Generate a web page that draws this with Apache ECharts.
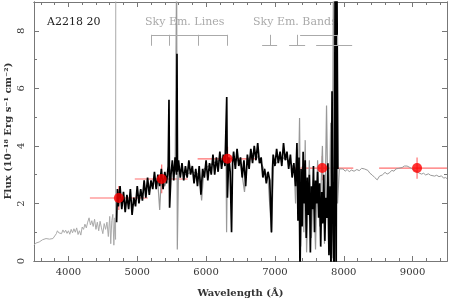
<!DOCTYPE html>
<html><head><meta charset="utf-8">
<script src="https://cdn.jsdelivr.net/npm/echarts@6/dist/echarts.min.js"></script>
<style>html,body{margin:0;padding:0;background:#fff}#c{width:451px;height:300px}</style>
</head><body><div id="c"></div>
<script>
// ---- data ----
const xMajorTicks = [4000, 5000, 6000, 7000, 8000, 9000];
const xMinorTicks = [3600,3800,4200,4400,4600,4800,5200,5400,5600,5800,6200,6400,6600,6800,7200,7400,7600,7800,8200,8400,8600,8800,9200,9400];
const yMajorTicks = [0, 2, 4, 6, 8];
const yMinorTicks = [1, 3, 5, 7];

// grey spectrum, blue end
const greyBlue = [[3500,0.55],[3525,0.62],[3550,0.58],[3575,0.66],[3600,0.70],[3625,0.74],[3650,0.72],[3675,0.78],[3700,0.80],[3725,0.76],[3750,0.81],[3775,0.78],[3800,0.74],[3825,0.95],[3840,1.05],[3860,0.98],[3880,1.02],[3900,0.95],[3920,1.08],[3940,0.99],[3960,1.07],[3980,0.96],[4000,1.05],[4020,0.93],[4040,1.10],[4060,0.98],[4080,1.12],[4100,1.00],[4120,1.15],[4140,0.92],[4160,1.05],[4180,0.90],[4200,1.18],[4220,1.10],[4240,1.28],[4260,1.15],[4280,1.35],[4300,1.50],[4320,1.25],[4340,1.40],[4360,1.20],[4380,1.45],[4400,1.10],[4420,1.35],[4440,1.05],[4460,1.38],[4480,1.15],[4500,0.95],[4520,1.30],[4540,1.10],[4560,1.35],[4580,0.85],[4600,1.55],[4615,0.60],[4630,1.40],[4645,1.62],[4660,0.55],[4675,1.50],[4685,0.75],[4688,10]];

// grey (sky-affected) spectrum under the black one
const greyMid = [[5250,2.8],[5300,2.7],[5326,1.77],[5350,2.9],[5400,2.6],[5450,3.0],[5500,3.2],[5550,3.1],[5572,10],[5582,0.4],[5600,3.2],[5700,3.0],[5800,3.1],[5900,3.0],[5935,2.1],[5970,3.2],[6100,3.4],[6200,3.5],[6290,3.4],[6298,1.0],[6310,3.5],[6400,3.6],[6500,3.4],[6558,2.4],[6600,3.5],[6700,3.8],[6800,3.4],[6900,2.9],[6950,0.97],[6980,3.3],[7100,3.6],[7200,3.5],[7280,3.2],[7300,2.0],[7320,3.9],[7340,2.5],[7358,4.97],[7375,0.5],[7400,3.3],[7420,1.0],[7440,4.2],[7460,0.3],[7500,3.5],[7530,0.8],[7560,2.8],[7590,0.4],[7620,3.5],[7650,1.2],[7690,4.0],[7720,0.6],[7750,5.4],[7780,0.3],[7810,4.8],[7830,0.1],[7850,10],[7870,0.0],[7890,10],[7910,2.0],[7935,3.2]];

// black spectrum
const blackSpec = [[4700,1.35],[4712,2.5],[4725,1.9],[4750,2.6],[4775,1.8],[4800,2.4],[4825,1.7],[4850,2.3],[4875,1.8],[4900,2.5],[4925,1.6],[4950,2.2],[4975,1.9],[5000,2.6],[5025,2.0],[5050,2.5],[5075,2.1],[5100,2.8],[5125,2.2],[5150,2.9],[5175,2.3],[5200,2.8],[5225,2.5],[5250,3.1],[5275,2.5],[5300,3.0],[5325,2.6],[5350,3.2],[5375,2.5],[5400,3.1],[5425,2.7],[5450,3.3],[5461,5.6],[5470,1.85],[5490,3.0],[5510,3.5],[5530,2.8],[5550,3.6],[5570,3.0],[5577,7.2],[5585,3.1],[5600,3.5],[5625,2.9],[5650,3.4],[5675,2.8],[5700,3.3],[5725,2.9],[5750,3.5],[5775,3.0],[5800,3.3],[5825,2.7],[5850,3.2],[5875,2.6],[5900,3.3],[5925,2.3],[5950,3.2],[5975,2.9],[6000,3.5],[6025,2.8],[6050,3.4],[6075,3.0],[6100,3.7],[6125,3.0],[6150,3.6],[6175,3.1],[6200,3.8],[6225,3.2],[6250,3.7],[6275,3.3],[6300,5.7],[6310,2.2],[6330,3.6],[6350,3.1],[6370,1.0],[6385,3.4],[6400,3.8],[6425,3.2],[6450,3.9],[6475,3.3],[6500,3.6],[6525,2.9],[6550,3.5],[6575,2.6],[6600,3.7],[6625,3.2],[6650,3.9],[6675,3.4],[6700,4.0],[6725,3.5],[6750,4.1],[6775,3.4],[6800,3.6],[6825,2.9],[6850,3.2],[6875,2.7],[6900,3.1],[6925,2.8],[6950,1.0],[6965,3.2],[6975,3.7],[7000,3.3],[7025,3.9],[7050,3.4],[7075,3.8],[7100,3.3],[7125,4.1],[7150,3.5],[7175,3.8],[7200,3.2],[7225,3.7],[7250,2.9],[7275,3.4],[7300,2.6],[7320,4.1],[7335,1.4],[7350,3.6],[7365,-0.5],[7380,3.2],[7395,1.2],[7410,3.8],[7425,2.0],[7440,3.5],[7455,0.8],[7470,2.9],[7485,1.6],[7500,3.0],[7515,0.3],[7530,2.6],[7545,1.8],[7560,3.3],[7575,1.0],[7590,2.8],[7605,2.0],[7620,3.1],[7635,1.5],[7650,2.7],[7665,0.5],[7680,2.4],[7695,1.3],[7710,3.0],[7725,0.7],[7740,2.2],[7755,1.5],[7770,3.4],[7785,0.2],[7800,2.6],[7815,-0.5],[7830,5.9],[7845,1.0],[7860,-0.5],[7875,10],[7890,-0.5],[7900,10],[7915,3.2]];

// grey spectrum, red end
const greyRed = [[7935,3.2],[7960,3.15],[7990,3.2],[8020,3.12],[8050,3.18],[8080,3.1],[8110,3.16],[8150,3.12],[8190,3.18],[8225,3.14],[8260,3.22],[8300,3.2],[8322,3.25],[8350,3.15],[8380,3.05],[8413,2.99],[8450,2.9],[8486,2.82],[8520,2.95],[8560,2.99],[8600,3.08],[8630,3.02],[8660,3.06],[8700,3.15],[8730,3.12],[8757,3.2],[8800,3.22],[8850,3.25],[8880,3.3],[8920,3.3],[8960,3.25],[8993,3.2],[9030,3.15],[9060,3.1],[9094,3.06],[9130,3.02],[9160,3.05],[9190,2.99],[9230,3.03],[9260,2.98],[9283,3.02],[9320,2.95],[9350,2.98],[9384,2.93],[9420,2.96],[9450,2.88],[9481,2.9],[9500,2.86]];

// broadband photometry points
const photWave   = [4732, 5355, 6312, 7688, 9065];
const photFlux   = [2.19, 2.85, 3.55, 3.23, 3.23];
const photWaveLo = [4312, 4964, 5877, 7239, 8514];
const photWaveHi = [5152, 5732, 6732, 8138, 9600];
const photFluxErr= [0.42, 0.50, 0.42, 0.42, 0.37];

// annotation brackets (wavelengths)
const skyLines = [5201, 5462, 5884, 6305];
const skyBandMarks = [6930, 7323, 7904];
const skyBandRanges = [[6814, 7032], [7206, 7439], [7599, 8122]];
const bracketTop = 7.86, bracketBottom = 7.48;

// ---- chart ----
const FONT = 'DejaVu Serif';
const axisColor = '#777';
const phot = photWave.map((w, i) => [w, photFlux[i], photWaveLo[i], photWaveHi[i], photFluxErr[i]]);

const markSegs = [];
markSegs.push([{coord:[skyLines[0], bracketTop]}, {coord:[skyLines[skyLines.length-1], bracketTop]}]);
skyLines.forEach(w => markSegs.push([{coord:[w, bracketTop]}, {coord:[w, bracketBottom]}]));
skyBandMarks.forEach(w => markSegs.push([{coord:[w, bracketTop]}, {coord:[w, bracketBottom]}]));
skyBandRanges.forEach(r => markSegs.push([{coord:[r[0], bracketBottom]}, {coord:[r[1], bracketBottom]}]));
markSegs.push([{coord:[7366, bracketTop]}, {coord:[7904, bracketTop]}]);

function xAx(pos, ticks, len, labels, name) {
  return {
    type: 'value', position: pos, min: 3500, max: 9500, gridIndex: 0,
    axisLine: {show: true, onZero: false, lineStyle: {color: axisColor, width: 1}},
    axisTick: {show: true, inside: true, length: len, customValues: ticks, lineStyle: {color: axisColor}},
    axisLabel: labels ? {show: true, customValues: ticks, margin: 6, color: '#333', fontFamily: FONT, fontSize: 10, formatter: v => String(v)} : {show: false},
    splitLine: {show: false},
    name: name || '', nameLocation: 'middle', nameGap: 27,
    nameTextStyle: {fontFamily: FONT, fontSize: 10, fontWeight: 'bold', color: '#333'}
  };
}
function yAx(pos, ticks, len, labels) {
  return {
    type: 'value', position: pos, min: 0, max: 9, gridIndex: 0,
    axisLine: {show: true, onZero: false, lineStyle: {color: axisColor, width: 1}},
    axisTick: {show: true, inside: true, length: len, customValues: ticks, lineStyle: {color: axisColor}},
    axisLabel: labels ? {show: true, customValues: ticks, rotate: 90, margin: 8, color: '#333', fontFamily: FONT, fontSize: 10, formatter: v => String(v)} : {show: false},
    splitLine: {show: false}
  };
}

const chart = echarts.init(document.getElementById('c'), null, {renderer: 'canvas'});
chart.setOption({
  animation: false,
  backgroundColor: '#fff',
  grid: {left: 34, right: 4, top: 2, bottom: 39, containLabel: false, outerBoundsMode: 'none'},
  xAxis: [
    xAx('bottom', xMajorTicks, 5, true, 'Wavelength (Å)'),
    xAx('bottom', xMinorTicks, 3, false),
    xAx('top', xMajorTicks, 5, false),
    xAx('top', xMinorTicks, 3, false)
  ],
  yAxis: [
    yAx('left', yMajorTicks, 5, true),
    yAx('left', yMinorTicks, 3, false),
    yAx('right', yMajorTicks, 5, false),
    yAx('right', yMinorTicks, 3, false)
  ],
  graphic: [
    {type: 'text', x: 8, y: 131, rotation: Math.PI / 2,
     style: {text: 'Flux (10⁻¹⁸ Erg s⁻¹ cm⁻²)', font: 'bold 10px "DejaVu Serif"', fill: '#333', align: 'center', verticalAlign: 'middle'}},
    {type: 'text', left: 47, top: 17, style: {text: 'A2218 20', font: '11px "DejaVu Serif"', fill: '#222'}},
    {type: 'text', left: 145, top: 17, style: {text: 'Sky Em. Lines', font: '11px "DejaVu Serif"', fill: '#aaa'}},
    {type: 'text', left: 253, top: 17, style: {text: 'Sky Em. Bands', font: '11px "DejaVu Serif"', fill: '#aaa'}}
  ],
  series: [
    {type: 'line', data: greyBlue, showSymbol: false, clip: true, lineStyle: {color: '#aaa', width: 1}},
    {type: 'line', data: greyMid, showSymbol: false, clip: true, lineStyle: {color: '#999', width: 1.2}},
    {type: 'line', data: blackSpec, showSymbol: false, clip: true, lineStyle: {color: '#000', width: 1.7}},
    {type: 'line', data: greyRed, showSymbol: false, clip: true, lineStyle: {color: '#999', width: 1},
     markLine: {silent: true, symbol: ['none','none'], label: {show: false}, animation: false,
       lineStyle: {color: '#aaa', width: 1, type: 'solid'}, emphasis: {disabled: true}, data: markSegs}},
    {type: 'custom', clip: true, data: phot, encode: {x: [0, 2, 3], y: 1},
     renderItem: function (params, api) {
       const l = api.coord([api.value(2), api.value(1)]);
       const r = api.coord([api.value(3), api.value(1)]);
       const t = api.coord([api.value(0), api.value(1) + api.value(4)]);
       const b = api.coord([api.value(0), api.value(1) - api.value(4)]);
       const st = {stroke: 'rgba(255,50,50,0.7)', lineWidth: 1.2};
       return {type: 'group', children: [
         {type: 'line', shape: {x1: l[0], y1: l[1], x2: r[0], y2: r[1]}, style: st},
         {type: 'line', shape: {x1: t[0], y1: t[1], x2: b[0], y2: b[1]}, style: st}
       ]};
     }},
    {type: 'scatter', data: phot.map(p => [p[0], p[1]]), symbol: 'circle', symbolSize: 10,
     itemStyle: {color: '#ff0000'}, z: 5}
  ]
});
</script></body></html>
